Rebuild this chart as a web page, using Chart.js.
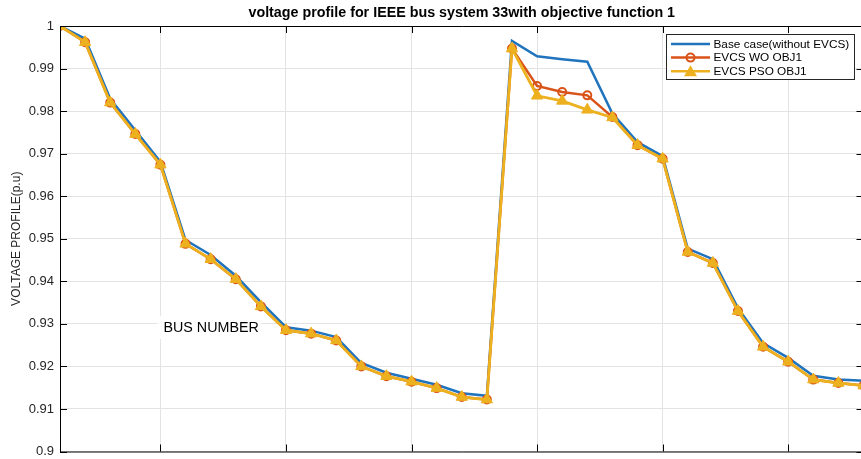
<!DOCTYPE html>
<html>
<head>
<meta charset="utf-8">
<script src="https://cdn.jsdelivr.net/npm/chart.js@4/dist/chart.umd.min.js"></script>
<style>
  html, body { margin: 0; padding: 0; background: #fff; overflow: hidden; }
  #wrap { width: 861px; height: 459px; overflow: hidden; }
</style>
</head>
<body>
<div id="wrap"><canvas id="chart" width="871" height="459"></canvas></div>
<script>
// bus numbers 1..33
const busNumbers = [1, 2, 3, 4, 5, 6, 7, 8, 9, 10, 11, 12, 13, 14, 15, 16, 17, 18, 19, 20, 21, 22, 23, 24, 25, 26, 27, 28, 29, 30, 31, 32, 33];

const baseCase = [1.0000, 0.9970, 0.9829, 0.9755, 0.9681, 0.9497, 0.9462, 0.9413, 0.9351, 0.9292, 0.9284, 0.9269, 0.9208, 0.9185, 0.9171, 0.9157, 0.9137, 0.9131,
                  0.9965, 0.9929, 0.9922, 0.9916, 0.9794, 0.9727, 0.9694, 0.9477, 0.9452, 0.9337, 0.9255, 0.9220, 0.9178, 0.9169, 0.9166];

const evcsWO = [1.0000, 0.9962, 0.9820, 0.9746, 0.9674, 0.9488, 0.9452, 0.9405, 0.9341, 0.9285, 0.9277, 0.9261, 0.9200, 0.9177, 0.9164, 0.9149, 0.9128, 0.9122,
                0.9947, 0.9859, 0.9845, 0.9837, 0.9786, 0.9720, 0.9688, 0.9469, 0.9443, 0.9330, 0.9246, 0.9211, 0.9169, 0.9161, 0.9155];

const evcsPSO = [1.0000, 0.9962, 0.9820, 0.9746, 0.9674, 0.9488, 0.9452, 0.9405, 0.9341, 0.9285, 0.9277, 0.9261, 0.9200, 0.9177, 0.9164, 0.9149, 0.9128, 0.9122,
                 0.9947, 0.9836, 0.9824, 0.9803, 0.9785, 0.9720, 0.9688, 0.9469, 0.9443, 0.9330, 0.9246, 0.9211, 0.9169, 0.9161, 0.9155];

const xTicks = [5, 10, 15, 20, 25, 30];
const seriesNames = ['Base case(without EVCS)', 'EVCS WO OBJ1', 'EVCS PSO OBJ1'];

const FONT = '"Liberation Sans", Arial, Helvetica, sans-serif';
const BLUE = '#1f74bd';
const ORANGE = '#d95319';
const YELLOW = '#edb120';

function points(vals) {
    return busNumbers.map((b, i) => ({ x: b, y: vals[i] }));
}

// frame, inward ticks, titles, text label and legend (MATLAB style)
const matlabAxes = {
    id: 'matlabAxes',
    beforeDatasetsDraw(chart) {
        const ctx = chart.ctx;
        const x = chart.scales.x, y = chart.scales.y;
        ctx.save();
        ctx.font = '14.3px ' + FONT;
        const txt = 'BUS NUMBER';
        const tx = x.getPixelForValue(5.12), ty = y.getPixelForValue(0.929);
        const w = ctx.measureText(txt).width;
        ctx.fillStyle = '#fff';
        ctx.fillRect(tx - 6, ty - 12, w + 8, 23);
        ctx.fillStyle = '#000';
        ctx.textBaseline = 'middle';
        ctx.fillText(txt, tx, ty);
        ctx.restore();
    },
    afterDraw(chart) {
        const ctx = chart.ctx;
        const a = chart.chartArea;
        const x = chart.scales.x, y = chart.scales.y;
        ctx.save();
        ctx.strokeStyle = '#000';
        ctx.lineWidth = 1;
        ctx.beginPath();
        ctx.rect(a.left + 0.5, a.top + 0.5, a.right - a.left, a.bottom - a.top);
        // inward ticks
        const tl = 7;
        xTicks.forEach(v => {
            const px = Math.round(x.getPixelForValue(v)) + 0.5;
            ctx.moveTo(px, a.top); ctx.lineTo(px, a.top + tl);
            ctx.moveTo(px, a.bottom); ctx.lineTo(px, a.bottom - tl);
        });
        y.ticks.forEach(t => {
            const py = Math.round(y.getPixelForValue(t.value)) + 0.5;
            ctx.moveTo(a.left, py); ctx.lineTo(a.left + tl, py);
            ctx.moveTo(a.right, py); ctx.lineTo(a.right - tl, py);
        });
        ctx.stroke();

        // title
        ctx.fillStyle = '#000';
        ctx.font = 'bold 14.3px ' + FONT;
        ctx.textAlign = 'center';
        ctx.textBaseline = 'middle';
        ctx.fillText('voltage profile for IEEE bus system 33with objective function 1', (a.left + a.right) / 2, 13);

        // y axis title
        ctx.save();
        ctx.translate(17, (a.top + a.bottom) / 2);
        ctx.rotate(-Math.PI / 2);
        ctx.font = '12px ' + FONT;
        ctx.fillStyle = '#262626';
        ctx.fillText('VOLTAGE PROFILE(p.u)', 0, 0);
        ctx.restore();

        // legend
        const lx = 666.5, ly = 34.5, lw = 188, lh = 45;
        ctx.fillStyle = '#fff';
        ctx.fillRect(lx, ly, lw, lh);
        ctx.strokeStyle = '#262626';
        ctx.strokeRect(lx, ly, lw, lh);
        ctx.font = '11.8px ' + FONT;
        ctx.textAlign = 'left';
        chart.data.datasets.forEach((ds, i) => {
            const ry = 44 + i * 13.6;
            ctx.strokeStyle = ds.borderColor;
            ctx.lineWidth = 2.5;
            ctx.beginPath();
            ctx.moveTo(671, ry); ctx.lineTo(710, ry);
            ctx.stroke();
            if (ds.pointStyle === 'circle') {
                ctx.lineWidth = 2;
                ctx.beginPath();
                ctx.arc(690.5, ry, 4, 0, Math.PI * 2);
                ctx.stroke();
            } else if (ds.pointStyle === 'triangle') {
                ctx.fillStyle = ds.pointBackgroundColor;
                ctx.beginPath();
                ctx.moveTo(690.5, ry - 6);
                ctx.lineTo(697, ry + 5);
                ctx.lineTo(684, ry + 5);
                ctx.closePath();
                ctx.fill();
            }
            ctx.fillStyle = '#000';
            ctx.fillText(seriesNames[i], 713.5, ry + 0.5);
        });
        ctx.restore();
    }
};

new Chart(document.getElementById('chart'), {
    type: 'line',
    data: {
        datasets: [
            {
                label: seriesNames[0],
                data: points(baseCase),
                borderColor: BLUE,
                borderWidth: 2.5,
                pointRadius: 0,
                order: 3
            },
            {
                label: seriesNames[1],
                data: points(evcsWO),
                borderColor: ORANGE,
                borderWidth: 2.5,
                pointStyle: 'circle',
                pointRadius: 4,
                pointBorderWidth: 2,
                pointBorderColor: ORANGE,
                pointBackgroundColor: 'rgba(0,0,0,0)',
                order: 2
            },
            {
                label: seriesNames[2],
                data: points(evcsPSO),
                borderColor: YELLOW,
                borderWidth: 2.8,
                pointStyle: 'triangle',
                pointRadius: 6.5,
                pointBorderWidth: 1,
                pointBorderColor: YELLOW,
                pointBackgroundColor: YELLOW,
                order: 1
            }
        ]
    },
    options: {
        responsive: false,
        animation: false,
        layout: { padding: { top: 26, bottom: 7, left: 0, right: 5 } },
        plugins: {
            legend: { display: false },
            tooltip: { enabled: false },
            title: { display: false }
        },
        scales: {
            x: {
                type: 'linear',
                min: 1,
                max: 33,
                afterBuildTicks: scale => { scale.ticks = xTicks.map(v => ({ value: v })); },
                afterFit: scale => { scale.height = 0; scale.paddingLeft = 0; scale.paddingRight = 0; },
                ticks: { display: false },
                grid: { color: '#e3e3e3', drawTicks: false },
                border: { display: false }
            },
            y: {
                min: 0.9,
                max: 1.0,
                afterFit: scale => { scale.width = 60; scale.paddingTop = 0; scale.paddingBottom = 0; },
                ticks: {
                    stepSize: 0.01,
                    padding: 6,
                    color: '#262626',
                    font: { family: FONT, size: 13 },
                    callback: v => String(Number(v.toFixed(2)))
                },
                grid: { color: '#e3e3e3', drawTicks: false },
                border: { display: false }
            }
        }
    },
    plugins: [matlabAxes]
});
</script>
</body>
</html>
